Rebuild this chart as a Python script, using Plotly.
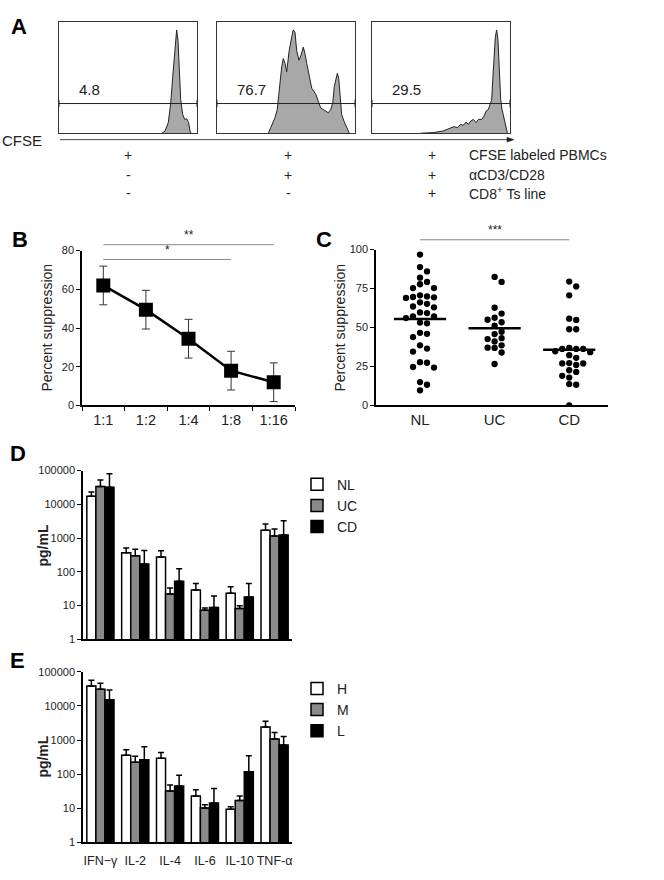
import numpy as np
import plotly.graph_objects as go

W, H = 664, 880
FONT = "Arial, 'Liberation Sans', Helvetica, sans-serif"
INK = "#222222"

# ---------------- Panel A: CFSE histograms (channel, relative count) ----------------
hist1_ch = [764, 787, 811, 829, 844, 859, 873, 883, 893, 903, 918, 933, 948, 962, 972, 980]
hist1_ct = [0, 2.4, 11.4, 32.6, 60.9, 92.7, 111.2, 99.8, 68, 36.1, 20.2, 14.9, 15.6, 11.4, 2.4, 0]

hist2_ch = [381, 406, 430, 447, 462, 480, 492, 505, 517, 536, 554, 566, 579, 591, 608, 623, 640,
            653, 666, 677, 690, 703, 720, 735, 752, 769, 789, 809, 826, 844, 859, 870, 883, 893,
            903, 913, 925, 942, 962, 982]
hist2_ct = [0, 7.8, 16.7, 25.5, 46.7, 71.5, 80.4, 75.1, 66.2, 89.2, 103.3, 111.2, 108.6, 89.2,
            78.6, 83.9, 92.7, 85.7, 75.1, 68, 57.3, 48.5, 44.9, 41.4, 34.3, 27.3, 25.5, 23.7, 22,
            25.5, 32.6, 50.2, 57.3, 64.5, 59.2, 36.1, 20.2, 13.1, 6.1, 0]

hist3_ch = [360, 455, 529, 579, 608, 633, 658, 677, 698, 715, 732, 752, 772, 789, 814, 831, 846,
            863, 876, 888, 896, 905, 915, 925, 935, 945, 955, 965, 980, 995, 1005]
hist3_ct = [0, 0.7, 2.5, 5, 7.1, 6.1, 9.6, 8.5, 12, 9.6, 13.1, 14.9, 11.4, 14.9, 14.9, 18.4, 23.7,
            25.5, 30.8, 36.1, 57.3, 85.7, 103.3, 111.2, 99.8, 68, 36.1, 25.5, 14.9, 4.2, 0]

gate_level = 32
gate_pct = ["4.8", "76.7", "29.5"]
cond_labels = ["CFSE labeled PBMCs", "αCD3/CD28", "CD8<sup>+</sup> Ts line"]
cond_signs = [["+", "+", "+"], ["-", "+", "+"], ["-", "-", "+"]]

# ---------------- Panel B ----------------
ratios = ["1:1", "1:2", "1:4", "1:8", "1:16"]
supp_mean = [62, 49.5, 34.5, 18, 12]
supp_err = [10, 10, 10, 10, 10]

# ---------------- Panel C ----------------
groups_c = ["NL", "UC", "CD"]
nl_vals = [96.8, 88.8, 86, 82, 79.3, 77.8, 75.3, 75.3, 70.7, 70, 69.6, 69.4, 69, 66.2, 65.2,
           63.5, 63, 59.7, 59.3, 57.2, 57.2, 56.1, 53.2, 52.7, 46.6, 46, 43.9, 38.6, 36.5,
           34.6, 27.4, 27.8, 24.3, 24.7, 15, 13.3, 9.7]
uc_vals = [82.5, 79.3, 62.7, 59, 56.3, 55, 53.4, 51.3, 47.3, 45.8, 42.6, 43.2, 41.1, 38.6,
           36.9, 37.1, 34, 26.6]
cd_vals = [79.5, 76.4, 70.7, 55.7, 54.9, 48.9, 48.9, 36.9, 36.3, 36.3, 36.3, 34.8, 34.2, 30.6,
           32.3, 27, 27, 26, 27.2, 21.5, 22.6, 17.9, 19, 13.7, 13.3, 0]

# ---------------- Panels D / E ----------------
cytokines = ["IFN−γ", "IL-2", "IL-4", "IL-6", "IL-10", "TNF-α"]
d_names = ["NL", "UC", "CD"]
d_vals = [[17400, 366, 275, 29, 23, 1700],
          [34000, 300, 22, 7.2, 8.2, 1150],
          [32000, 170, 52, 8.7, 18, 1230]]
d_errs = [[5600, 144, 143, 16, 13, 900],
          [19000, 165, 11, 1.2, 1.6, 720],
          [48000, 257, 70, 10.3, 27, 2020]]
e_names = ["H", "M", "L"]
e_vals = [[38600, 360, 295, 23, 9.4, 2400],
          [31000, 222, 32, 10.2, 17, 1070],
          [15200, 265, 45, 14.2, 117, 720]]
e_errs = [[18400, 156, 135, 12, 1.8, 1150],
          [15000, 115, 16, 2.6, 6, 590],
          [14300, 375, 48, 23.8, 228, 560]]
bar_colors = ["#ffffff", "#8a8a8a", "#000000"]


def xd(l, r):
    return [l / W, r / W]


def yd(t, b):
    return [1 - b / H, 1 - t / H]


def px(x):
    return x / W


def py(y):
    return 1 - y / H


fig = go.Figure()

# ---- Panel A traces
hists = [(hist1_ch, hist1_ct), (hist2_ch, hist2_ct), (hist3_ch, hist3_ct)]
for k, (ch, ct) in enumerate(hists):
    n = "" if k == 0 else str(k + 1)
    fig.add_trace(go.Scatter(x=ch, y=ct, mode="lines", fill="tozeroy",
                             fillcolor="#a8a8a8", line=dict(color="#222", width=1),
                             xaxis="x" + n, yaxis="y" + n, showlegend=False, hoverinfo="skip"))
    fig.add_trace(go.Scatter(x=[0, 1024], y=[gate_level, gate_level], mode="lines",
                             line=dict(color="#222", width=1), xaxis="x" + n, yaxis="y" + n,
                             showlegend=False, hoverinfo="skip"))

# ---- Panel B
fig.add_trace(go.Scatter(x=ratios, y=supp_mean, mode="lines+markers",
                         line=dict(color="black", width=2.5),
                         marker=dict(symbol="square", size=14, color="black"),
                         error_y=dict(type="data", array=supp_err, color="#333",
                                      thickness=1, width=4),
                         xaxis="x4", yaxis="y4", showlegend=False))

# ---- Panel C (beeswarm offsets computed from the values)
c_left, c_right, c_top, c_bot = 376, 608, 247, 405
c_xrange = [-0.59, 2.52]
px_per_x = (c_right - c_left) / (c_xrange[1] - c_xrange[0])
px_per_y = (c_bot - c_top) / 100.0
dot_px, lane_px = 6.4, 7.0


def swarm(vals):
    vals = np.asarray(vals, float)
    order = np.argsort(-vals, kind="stable")
    placed = []
    offs = np.zeros(len(vals))
    lanes = [0, 1, -1, 2, -2, 3, -3, 4, -4]
    for i in order:
        y = vals[i]
        for ln in lanes:
            if all(abs(y - q) * px_per_y >= dot_px for pl, q in placed if pl == ln):
                break
        placed.append((ln, y))
        offs[i] = ln * lane_px / px_per_x
    return offs


for gi, vals in enumerate([nl_vals, uc_vals, cd_vals]):
    offs = swarm(vals)
    fig.add_trace(go.Scatter(x=gi + offs, y=vals, mode="markers",
                             marker=dict(size=6.3, color="black"),
                             xaxis="x5", yaxis="y5", showlegend=False))
    m = float(np.mean(vals))
    fig.add_trace(go.Scatter(x=[gi - 0.35, gi + 0.35], y=[m, m], mode="lines",
                             line=dict(color="black", width=2.5),
                             xaxis="x5", yaxis="y5", showlegend=False, hoverinfo="skip"))

# ---- Panels D and E
for (names, vals, errs, xa, ya, lg) in [(d_names, d_vals, d_errs, "x6", "y6", "legend"),
                                        (e_names, e_vals, e_errs, "x7", "y7", "legend2")]:
    for s in range(3):
        fig.add_trace(go.Bar(x=cytokines, y=vals[s], name=names[s],
                             marker=dict(color=bar_colors[s], line=dict(color="black", width=1.5)),
                             error_y=dict(type="data", symmetric=False, array=errs[s],
                                          arrayminus=[0] * len(errs[s]), color="black",
                                          thickness=1.5, width=3),
                             xaxis=xa, yaxis=ya, legend=lg))

# ---------------- Layout ----------------
hist_ax = dict(range=[0, 1024], showline=True, mirror=True, linecolor="#333", linewidth=1,
               showticklabels=False, ticks="", showgrid=False, zeroline=False, fixedrange=True)
hist_ay = dict(range=[0, 120], showline=True, mirror=True, linecolor="#333", linewidth=1,
               showticklabels=False, ticks="", showgrid=False, zeroline=False, fixedrange=True)

tickfont = dict(family=FONT, size=11, color=INK)
axline = dict(showline=True, linecolor="black", linewidth=1.5, showgrid=False, zeroline=False)

log_ticks = [1, 10, 100, 1000, 10000, 100000]
log_text = ["1", "10", "100", "1000", "10000", "100000"]

layout = dict(
    width=W, height=H, margin=dict(l=0, r=0, t=0, b=0),
    paper_bgcolor="white", plot_bgcolor="rgba(0,0,0,0)",
    font=dict(family=FONT, color=INK),
    barmode="group", bargap=0.22, bargroupgap=0,
    xaxis=dict(domain=xd(59, 197), anchor="y", **hist_ax),
    yaxis=dict(domain=yd(16, 129), anchor="x", **hist_ay),
    xaxis2=dict(domain=xd(217, 355), anchor="y2", **hist_ax),
    yaxis2=dict(domain=yd(16, 129), anchor="x2", **hist_ay),
    xaxis3=dict(domain=xd(372, 510), anchor="y3", **hist_ax),
    yaxis3=dict(domain=yd(16, 129), anchor="x3", **hist_ay),
    xaxis4=dict(domain=xd(82, 295), anchor="y4", type="category", range=[-0.5, 4.5],
                tickson="boundaries", ticks="outside", ticklen=4, tickcolor="black",
                tickfont=dict(family=FONT, size=14.5, color=INK), **axline),
    yaxis4=dict(domain=yd(248, 405), anchor="x4", range=[0, 80], tickvals=[0, 20, 40, 60, 80],
                ticks="outside", ticklen=4, tickcolor="black", tickfont=tickfont, **axline),
    xaxis5=dict(domain=xd(c_left, c_right), anchor="y5", range=c_xrange,
                tickvals=[0, 1, 2], ticktext=groups_c, ticks="",
                tickfont=dict(family=FONT, size=15, color=INK), **axline),
    yaxis5=dict(domain=yd(c_top, c_bot), anchor="x5", range=[0, 100],
                tickvals=[0, 25, 50, 75, 100], ticks="outside", ticklen=4, tickcolor="black",
                tickfont=tickfont, **axline),
    xaxis6=dict(domain=xd(83, 292), anchor="y6", type="category", range=[-0.5, 5.5],
                showticklabels=False, ticks="", **axline),
    yaxis6=dict(domain=yd(471, 642), anchor="x6", type="log", range=[0, 5],
                tickvals=log_ticks, ticktext=log_text, ticks="outside", ticklen=4,
                tickcolor="black", tickfont=tickfont, **axline),
    xaxis7=dict(domain=xd(83, 292), anchor="y7", type="category", range=[-0.5, 5.5],
                ticks="", ticklabelstandoff=6,
                tickfont=dict(family=FONT, size=12.5, color=INK), **axline),
    yaxis7=dict(domain=yd(675, 848), anchor="x7", type="log", range=[0, 5],
                tickvals=log_ticks, ticktext=log_text, ticks="outside", ticklen=4,
                tickcolor="black", tickfont=tickfont, **axline),
    legend=dict(x=px(297), y=py(469), xanchor="left", yanchor="top",
                font=dict(family=FONT, size=14, color=INK), bgcolor="rgba(0,0,0,0)",
                tracegroupgap=0),
    legend2=dict(x=px(297), y=py(676), xanchor="left", yanchor="top",
                 font=dict(family=FONT, size=14, color=INK), bgcolor="rgba(0,0,0,0)",
                 tracegroupgap=0),
)
fig.update_layout(**layout)

ann = []
shapes = []
# Panel letters
for letter, x, y in [("A", 9, 21), ("B", 10, 237), ("C", 314, 237), ("D", 8, 454), ("E", 8, 664)]:
    ann.append(dict(text="<b>%s</b>" % letter, x=px(x), y=py(y), xref="paper", yref="paper",
                    xanchor="left", yanchor="middle", showarrow=False,
                    font=dict(family=FONT, size=22, color="black")))
# Axis titles
for txt, x, y, bold in [("Percent suppression", 47, 326, False),
                        ("Percent suppression", 340, 326, False),
                        ("pg/mL", 43, 547, True), ("pg/mL", 43, 761, True)]:
    ann.append(dict(text=("<b>%s</b>" % txt) if bold else txt, x=px(x), y=py(y),
                    xref="paper", yref="paper", xanchor="center", yanchor="middle",
                    textangle=-90, showarrow=False, font=dict(family=FONT, size=14, color=INK)))
# Gate percentages and gate end ticks
for k, t in enumerate(gate_pct):
    n = "" if k == 0 else str(k + 1)
    ann.append(dict(text=t, x=135, y=47, xref="x" + n, yref="y" + n, xanchor="left",
                    yanchor="middle", showarrow=False, font=dict(family=FONT, size=15, color=INK)))
    for xe in (0, 1024):
        shapes.append(dict(type="line", xref="x" + n, yref="y" + n, x0=xe, x1=xe,
                           y0=gate_level - 4, y1=gate_level + 4, line=dict(color="#222", width=1)))
# CFSE axis arrow
ann.append(dict(text="CFSE", x=0, y=py(136), xref="paper", yref="paper", xanchor="left",
                yanchor="middle", showarrow=False, font=dict(family=FONT, size=15, color=INK)))
shapes.append(dict(type="line", xref="paper", yref="paper", x0=px(60), x1=px(508),
                   y0=py(135.5), y1=py(135.5), line=dict(color="#444", width=1)))
shapes.append(dict(type="path", xref="paper", yref="paper",
                   path="M %f %f L %f %f L %f %f Z" % (px(507), py(133), px(514), py(135.5),
                                                      px(507), py(138)),
                   fillcolor="#222", line=dict(color="#222", width=0.5)))
# Conditions table
col_x = [128, 288, 432]
row_y = [151, 171, 190]
for r in range(3):
    for c in range(3):
        ann.append(dict(text=cond_signs[r][c], x=px(col_x[c]), y=py(row_y[r]), xref="paper",
                        yref="paper", xanchor="center", yanchor="middle", showarrow=False,
                        font=dict(family=FONT, size=14, color=INK)))
    ann.append(dict(text=cond_labels[r], x=px(467), y=py(row_y[r]), xref="paper",
                    yref="paper", xanchor="left", yanchor="middle", showarrow=False,
                    font=dict(family=FONT, size=14, color=INK)))
# Significance bars
sig = [("x4", 0, 4, 242, "**"), ("x4", 0, 3, 257, "*"), ("x5", 0, 2, 237, "***")]
for xa, a, b, yp, txt in sig:
    shapes.append(dict(type="line", xref=xa, yref="paper", x0=a, x1=b, y0=py(yp),
                       y1=py(yp), line=dict(color="#888", width=1)))
    ann.append(dict(text=txt, x=(a + b) / 2, y=py(yp - 1), xref=xa, yref="paper",
                    xanchor="center", yanchor="bottom", showarrow=False,
                    font=dict(family=FONT, size=12, color=INK)))

fig.update_layout(annotations=ann, shapes=shapes)
fig.write_html("out.html", config={"displayModeBar": False},
               post_script="document.body.style.margin='0px';")
